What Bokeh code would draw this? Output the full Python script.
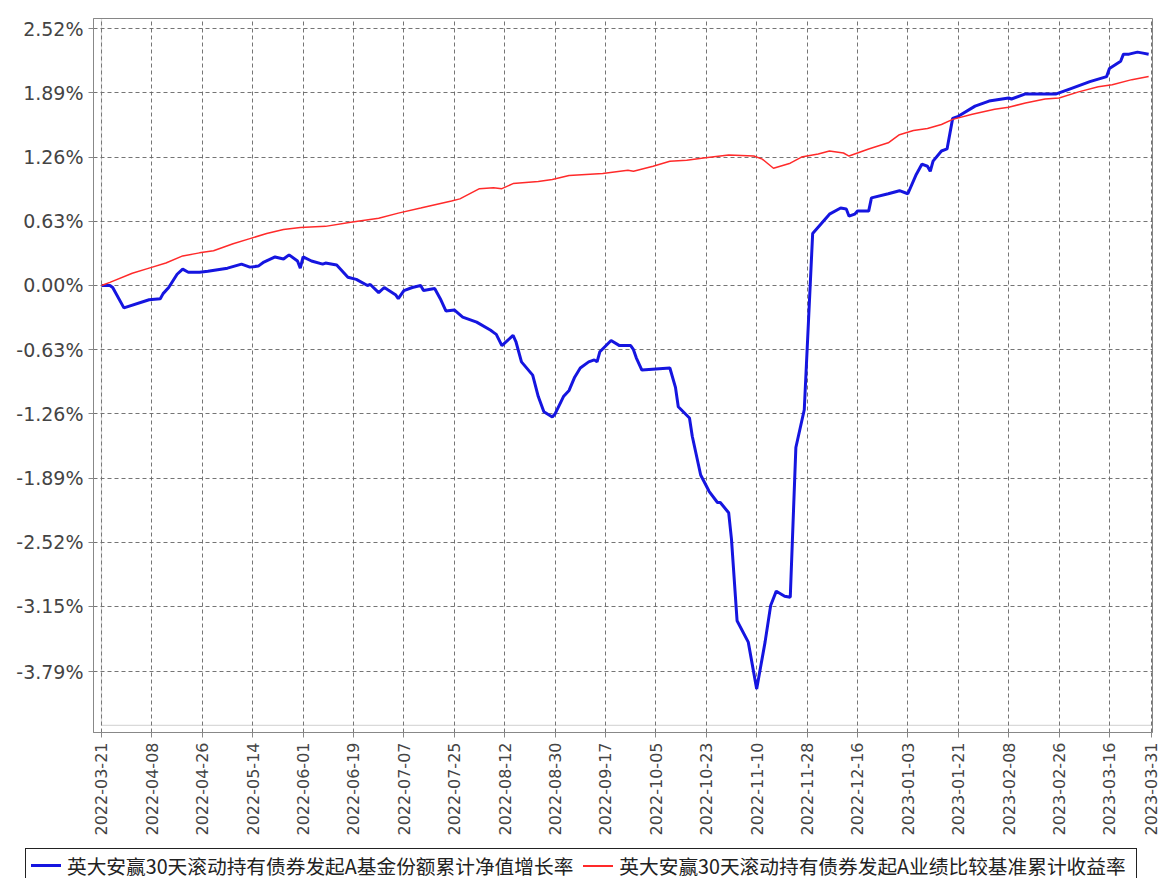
import pandas as pd
from datetime import datetime
from bokeh.plotting import figure
from bokeh.layouts import column
from bokeh.models import (Range1d, FixedTicker, BoxAnnotation, Div,
                          ColumnDataSource, DatetimeTickFormatter, PrintfTickFormatter)
from bokeh.embed import file_html
from bokeh.resources import INLINE

# ---------------- data (cumulative return, %) ----------------
fund_dates = [
    "2022-03-21", "2022-03-24", "2022-03-25", "2022-03-29", "2022-04-07", "2022-04-11",
    "2022-04-12", "2022-04-14", "2022-04-17", "2022-04-19", "2022-04-21", "2022-04-25",
    "2022-04-28", "2022-05-05", "2022-05-10", "2022-05-13", "2022-05-16", "2022-05-18",
    "2022-05-22", "2022-05-25", "2022-05-27", "2022-05-30", "2022-05-31", "2022-06-01",
    "2022-06-04", "2022-06-08", "2022-06-09", "2022-06-13", "2022-06-17", "2022-06-20",
    "2022-06-24", "2022-06-25", "2022-06-28", "2022-06-30", "2022-07-04", "2022-07-05",
    "2022-07-07", "2022-07-10", "2022-07-13", "2022-07-14", "2022-07-18", "2022-07-20",
    "2022-07-22", "2022-07-25", "2022-07-28", "2022-08-02", "2022-08-07", "2022-08-08",
    "2022-08-09", "2022-08-11", "2022-08-15", "2022-08-16", "2022-08-18", "2022-08-22",
    "2022-08-24", "2022-08-26", "2022-08-29", "2022-08-30", "2022-09-02", "2022-09-04",
    "2022-09-06", "2022-09-08", "2022-09-11", "2022-09-13", "2022-09-14", "2022-09-15",
    "2022-09-19", "2022-09-22", "2022-09-26", "2022-09-27", "2022-09-28", "2022-09-30",
    "2022-10-10", "2022-10-12", "2022-10-13", "2022-10-17", "2022-10-18", "2022-10-21",
    "2022-10-24", "2022-10-27", "2022-10-28", "2022-10-31", "2022-11-01", "2022-11-03",
    "2022-11-07", "2022-11-10", "2022-11-13", "2022-11-15", "2022-11-17", "2022-11-20",
    "2022-11-22", "2022-11-24", "2022-11-27", "2022-11-30", "2022-12-06", "2022-12-10",
    "2022-12-12", "2022-12-13", "2022-12-15", "2022-12-16", "2022-12-20", "2022-12-21",
    "2022-12-27", "2022-12-31", "2023-01-03", "2023-01-06", "2023-01-08", "2023-01-10",
    "2023-01-11", "2023-01-12", "2023-01-15", "2023-01-17", "2023-01-19", "2023-01-21",
    "2023-01-27", "2023-02-01", "2023-02-08", "2023-02-09", "2023-02-14", "2023-02-20",
    "2023-02-25", "2023-03-02", "2023-03-09", "2023-03-15", "2023-03-16", "2023-03-20",
    "2023-03-21", "2023-03-23", "2023-03-26", "2023-03-28", "2023-03-30",
]
fund_values = [
    0.00, 0.00, -0.02, -0.22, -0.14, -0.13,
    -0.08, -0.02, 0.11, 0.16, 0.13, 0.13,
    0.14, 0.17, 0.21, 0.18, 0.19, 0.23,
    0.28, 0.26, 0.30, 0.24, 0.17, 0.28,
    0.24, 0.21, 0.22, 0.20, 0.08, 0.06,
    0.00, 0.01, -0.07, -0.02, -0.09, -0.13,
    -0.05, -0.02, 0.00, -0.05, -0.03, -0.13,
    -0.25, -0.24, -0.31, -0.36, -0.44, -0.46,
    -0.48, -0.59, -0.49, -0.55, -0.75, -0.88,
    -1.09, -1.24, -1.29, -1.26, -1.09, -1.03,
    -0.90, -0.81, -0.75, -0.73, -0.75, -0.65,
    -0.54, -0.59, -0.59, -0.63, -0.71, -0.83,
    -0.81, -1.00, -1.19, -1.30, -1.48, -1.86,
    -2.02, -2.13, -2.13, -2.23, -2.49, -3.29,
    -3.50, -3.96, -3.50, -3.14, -3.00, -3.05,
    -3.06, -1.59, -1.22, 0.51, 0.70, 0.76,
    0.75, 0.68, 0.70, 0.73, 0.73, 0.86,
    0.90, 0.93, 0.90, 1.09, 1.19, 1.17,
    1.12, 1.22, 1.32, 1.34, 1.64, 1.66,
    1.76, 1.81, 1.84, 1.83, 1.88, 1.88,
    1.88, 1.93, 2.00, 2.05, 2.13, 2.20,
    2.27, 2.27, 2.29, 2.28, 2.27,
]

bench_dates = [
    "2022-03-21", "2022-03-24", "2022-04-01", "2022-04-07", "2022-04-13", "2022-04-19",
    "2022-04-25", "2022-04-30", "2022-05-07", "2022-05-13", "2022-05-19", "2022-05-25",
    "2022-05-31", "2022-06-09", "2022-06-18", "2022-06-28", "2022-07-05", "2022-07-13",
    "2022-07-24", "2022-07-27", "2022-08-03", "2022-08-08", "2022-08-11", "2022-08-15",
    "2022-08-24", "2022-08-29", "2022-09-04", "2022-09-16", "2022-09-25", "2022-09-27",
    "2022-10-04", "2022-10-10", "2022-10-16", "2022-10-22", "2022-10-31", "2022-11-09",
    "2022-11-12", "2022-11-16", "2022-11-22", "2022-11-26", "2022-12-02", "2022-12-06",
    "2022-12-11", "2022-12-13", "2022-12-16", "2022-12-20", "2022-12-27", "2022-12-31",
    "2023-01-05", "2023-01-10", "2023-01-15", "2023-01-19", "2023-01-26", "2023-02-03",
    "2023-02-08", "2023-02-14", "2023-02-21", "2023-02-26", "2023-03-05", "2023-03-12",
    "2023-03-17", "2023-03-24", "2023-03-30",
]
bench_values = [
    0.00, 0.03, 0.12, 0.17, 0.22, 0.29,
    0.32, 0.34, 0.41, 0.46, 0.51, 0.55,
    0.57, 0.58, 0.62, 0.66, 0.71, 0.76,
    0.83, 0.85, 0.95, 0.96, 0.95, 1.00,
    1.02, 1.04, 1.08, 1.10, 1.13, 1.12,
    1.17, 1.22, 1.23, 1.25, 1.28, 1.27,
    1.24, 1.15, 1.20, 1.26, 1.29, 1.32,
    1.30, 1.27, 1.30, 1.34, 1.40, 1.48,
    1.52, 1.54, 1.58, 1.63, 1.68, 1.73,
    1.75, 1.79, 1.83, 1.84, 1.90, 1.95,
    1.97, 2.02, 2.05,
]

x_tick_labels = [
    "2022-03-21", "2022-04-08", "2022-04-26", "2022-05-14", "2022-06-01", "2022-06-19",
    "2022-07-07", "2022-07-25", "2022-08-12", "2022-08-30", "2022-09-17", "2022-10-05",
    "2022-10-23", "2022-11-10", "2022-11-28", "2022-12-16", "2023-01-03", "2023-01-21",
    "2023-02-08", "2023-02-26", "2023-03-16", "2023-03-31",
]
y_tick_values = [2.52, 1.89, 1.26, 0.63, 0.00, -0.63, -1.26, -1.89, -2.52, -3.15, -3.79]

series_names = [
    "英大安赢30天滚动持有债券发起A基金份额累计净值增长率",
    "英大安赢30天滚动持有债券发起A业绩比较基准累计收益率",
]
series_colors = ["#1515e0", "#ff2a2a"]
series_widths = [3, 1.5]

# ---------------- main chart ----------------
def to_ms(s):
    return (pd.Timestamp(s) - pd.Timestamp("1970-01-01")).total_seconds() * 1000.0

fund_src = ColumnDataSource(dict(date=pd.to_datetime(fund_dates), value=fund_values))
bench_src = ColumnDataSource(dict(date=pd.to_datetime(bench_dates), value=bench_values))

x_start, x_end = datetime(2022, 3, 18, 3, 26), datetime(2023, 3, 31, 9, 0)
y_start, y_end = -4.387, 2.62

p = figure(
    output_backend="svg", toolbar_location=None,
    frame_width=1059, frame_height=714,
    min_border_left=93, min_border_right=8, min_border_top=18, min_border_bottom=116,
    x_axis_type="datetime",
    x_range=Range1d(x_start, x_end),
    y_range=Range1d(y_start, y_end),
    background_fill_color="white", border_fill_color="white",
)
p.outline_line_color = "#888888"
p.outline_line_width = 1

x_ticks = [to_ms(s) for s in x_tick_labels]
p.xaxis.ticker = FixedTicker(ticks=x_ticks)
fmt = "%Y-%m-%d"
p.xaxis.formatter = DatetimeTickFormatter(
    milliseconds=fmt, seconds=fmt, minsec=fmt, minutes=fmt, hourmin=fmt, hours=fmt,
    days=fmt, months=fmt, years=fmt, context=None)
p.xaxis.major_label_orientation = 3.14159265 / 2
p.yaxis.ticker = FixedTicker(ticks=y_tick_values)
p.yaxis.formatter = PrintfTickFormatter(format="%.2f%%")

for ax in (p.xaxis, p.yaxis):
    ax.axis_line_color = "#888888"
    ax.major_tick_line_color = "#888888"
    ax.minor_tick_line_color = None
    ax.major_tick_in = 0
    ax.major_tick_out = 5
    ax.major_label_text_font = "DejaVu Sans"
    ax.major_label_text_color = "#444444"
    ax.major_label_standoff = 5
p.xaxis.major_label_text_font_size = "16px"
p.yaxis.major_label_text_font_size = "19px"

for g in (p.xgrid, p.ygrid):
    g.grid_line_color = "#666666"
    g.grid_line_dash = "4 3"
    g.grid_line_width = 1
    g.grid_line_alpha = 0.9

# inner plotting frame (offset from the axes)
frame_box = BoxAnnotation(left=to_ms(fund_dates[0]), bottom=-4.318,
                          right=to_ms("2023-03-31 09:00"), top=y_end,
                          fill_alpha=0, line_color="#808080", line_width=1.2)
p.add_layout(frame_box)

p.line(x="date", y="value", source=fund_src, line_color=series_colors[0], line_width=series_widths[0])
p.line(x="date", y="value", source=bench_src, line_color=series_colors[1], line_width=series_widths[1])

# ---------------- legend strip ----------------
item_html = ""
for name, color, w in zip(series_names, series_colors, series_widths):
    item_html += (
        '<span style="display:inline-block;width:30px;height:0;'
        f'border-top:{max(2, round(w))}px solid {color};margin:0 6px 0 0;"></span>'
        f'<span style="margin-right:10px;">{name}</span>'
    )
legend_html = (
    '<div style="margin-left:25px;width:1112px;height:34px;box-sizing:border-box;'
    'border:1.5px solid #222222;border-bottom:none;display:flex;align-items:center;'
    'padding-left:5px;white-space:nowrap;color:#222222;'
    "font-family:'Noto Sans CJK SC';font-size:19.7px;line-height:1;\">"
    + item_html + '</div>'
)
legend_div = Div(text=legend_html, width=1160, height=30, margin=0)

layout = column(p, legend_div, spacing=0)
open("out.html", "w").write(file_html(layout, INLINE))
